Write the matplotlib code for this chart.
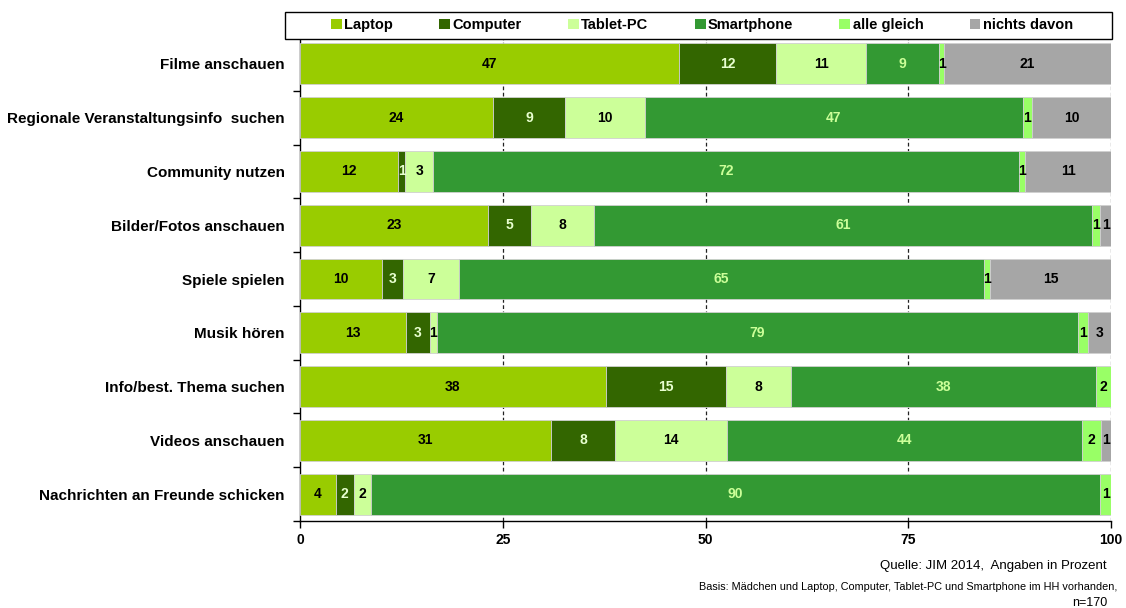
import matplotlib
matplotlib.use("Agg")
import matplotlib.pyplot as plt
from matplotlib.patches import Patch, Rectangle
import numpy as np

plt.rcParams['font.family'] = ['Liberation Sans', 'DejaVu Sans']

categories = [
    "Filme anschauen",
    "Regionale Veranstaltungsinfo  suchen",
    "Community nutzen",
    "Bilder/Fotos anschauen",
    "Spiele spielen",
    "Musik hören",
    "Info/best. Thema suchen",
    "Videos anschauen",
    "Nachrichten an Freunde schicken",
]
series_names = ["Laptop", "Computer", "Tablet-PC", "Smartphone", "alle gleich", "nichts davon"]

laptop     = [46.7, 23.8, 12.1, 23.2, 10.1, 13.1, 37.7, 31.0, 4.4]
computer   = [12.0, 8.9, 0.9, 5.3, 2.6, 2.9, 14.8, 7.8, 2.2]
tablet     = [11.1, 9.8, 3.4, 7.8, 6.9, 0.9, 8.1, 13.8, 2.1]
smartphone = [9.0, 46.6, 72.2, 61.4, 64.7, 79.0, 37.6, 43.8, 90.0]
alle       = [0.6, 1.2, 0.8, 1.0, 0.8, 1.3, 1.8, 2.4, 1.3]
nichts     = [20.6, 9.7, 10.6, 1.3, 14.9, 2.8, 0.0, 1.2, 0.0]

xticks = [0, 25, 50, 75, 100]

colors = ["#99CC00", "#336600", "#CCFF99", "#339933", "#99FF66", "#A6A6A6"]
label_colors = ["#000000", "#E8FFD0", "#000000", "#CCFF99", "#000000", "#000000"]

W, H = 1126, 608
fig = plt.figure(figsize=(W / 100, H / 100), dpi=100)
ax = fig.add_axes([300 / W, 1 - 521 / H, 811 / W, 484 / H])

data = [laptop, computer, tablet, smartphone, alle, nichts]
y = np.arange(len(categories))
left = np.zeros(len(categories))
for vals, col, lc in zip(data, colors, label_colors):
    vals = np.array(vals)
    ax.barh(y, vals, left=left, height=0.76, color=col,
            edgecolor="#D0D0D0", linewidth=0.6, zorder=3)
    for yi, l, v in zip(y, left, vals):
        if v > 0:
            ax.text(l + v / 2, yi, f"{v:.0f}", ha="center", va="center",
                    fontsize=10, fontweight="bold", color=lc, zorder=4)
    left += vals

ax.set_xlim(0, 100)
ax.set_ylim(len(categories) - 0.5, -0.5)
ax.set_xticks(xticks)
ax.set_xticklabels([str(t) for t in xticks], fontsize=10, fontweight="bold")
ax.set_yticks(y)
ax.set_yticklabels(categories, fontsize=11, fontweight="bold")
ax.set_yticks(np.arange(-0.5, len(categories) + 0.5, 1), minor=True)
ax.tick_params(axis="y", which="major", length=0, pad=11)
ax.tick_params(axis="y", which="minor", length=5, direction="out", width=1)
ax.tick_params(axis="x", which="major", length=5, direction="out", width=1, pad=4)

for xv in [25, 50, 75, 100]:
    ax.axvline(xv, color="#555555" if xv == 100 else "#222222",
               linestyle=(0, (3, 2)), linewidth=0.9, zorder=1)

for s in ["top", "right"]:
    ax.spines[s].set_visible(False)
for s in ["left", "bottom"]:
    ax.spines[s].set_linewidth(1)
    ax.spines[s].set_color("#000000")

# legend frame
fig.add_artist(Rectangle((285 / W, 1 - 39 / H), (1112 - 285) / W, 27 / H,
                         transform=fig.transFigure, facecolor="white",
                         edgecolor="#000000", linewidth=1.0, zorder=5))
handles = [Patch(facecolor=c, edgecolor="none", label=n) for c, n in zip(colors, series_names)]
leg = fig.legend(handles=handles, loc="center",
                 bbox_to_anchor=(702 / W, 1 - 25 / H),
                 ncol=6, frameon=False, borderaxespad=0, columnspacing=3.17,
                 handlelength=0.75, handleheight=0.75, handletextpad=0.15,
                 prop={"size": 10.5, "weight": "bold"}, borderpad=0.0)
leg.set_zorder(6)

fig.text(1107 / W, 1 - 566 / H, "Quelle: JIM 2014,  Angaben in Prozent",
         ha="right", va="center", fontsize=9.5)
fig.text(1117 / W, 1 - 587 / H,
         "Basis: Mädchen und Laptop, Computer, Tablet-PC und Smartphone im HH vorhanden,",
         ha="right", va="center", fontsize=7.8)
fig.text(1107 / W, 1 - 603 / H, "n=170", ha="right", va="center", fontsize=9)

fig.savefig("out.png", dpi=100)
